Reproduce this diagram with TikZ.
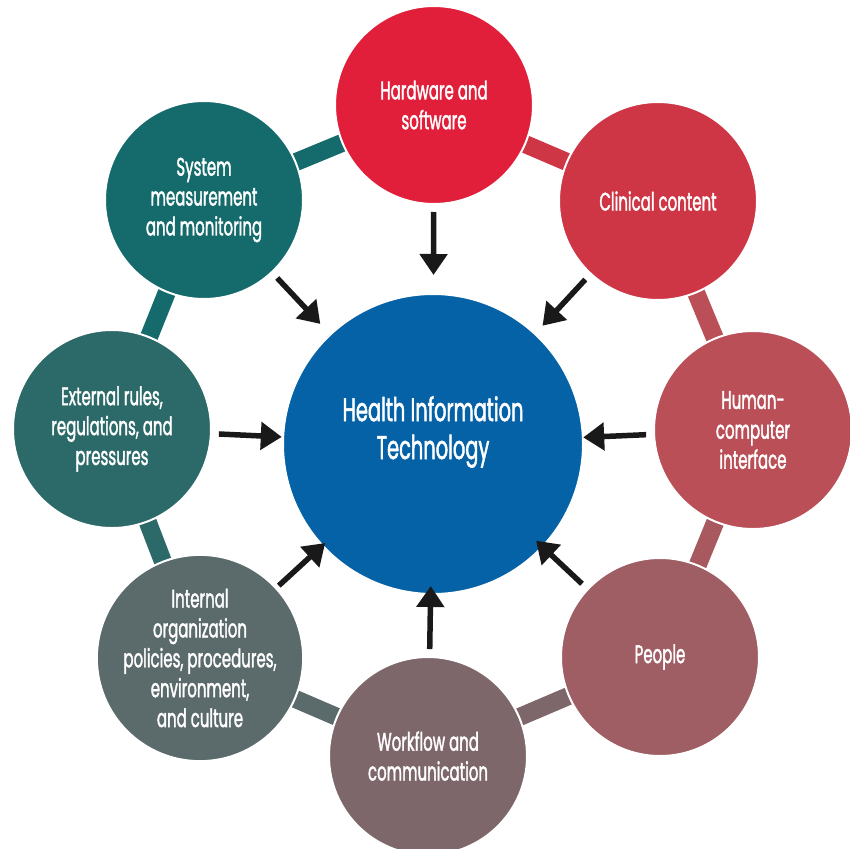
\documentclass[tikz,border=0pt]{standalone}
\usepackage{fontspec}
\setmainfont{Poppins}[FakeStretch=0.59, FakeBold=1.4]
\usetikzlibrary{arrows.meta, calc, backgrounds}

\definecolor{hwred}{HTML}{E21F3A}
\definecolor{clinred}{HTML}{CE3545}
\definecolor{hcired}{HTML}{BA4F58}
\definecolor{pplrose}{HTML}{9E5E63}
\definecolor{wfmauve}{HTML}{7E676B}
\definecolor{intgrey}{HTML}{5B6A6B}
\definecolor{extteal}{HTML}{2C6A69}
\definecolor{systeal}{HTML}{156B6C}
\definecolor{hitblue}{HTML}{0662A6}
\definecolor{linkrose}{HTML}{A8585F}

\begin{document}
\begin{tikzpicture}[x=1bp,y=-1bp,
    factor/.style={circle, fill=#1, draw=white, line width=2bp, minimum size=198bp,
      inner sep=0pt, text=white, align=center, font=\fontsize{25.5}{30}\selectfont},
    hitlabel/.style={text=white, align=center, inner sep=0pt, font=\fontsize{33}{38}\selectfont},
    link/.style={line width=18bp, draw=#1},
    arr/.style={-{Triangle[length=21bp,width=27bp]}, line width=5.5bp, black!90}]
  \useasboundingbox (0,0) rectangle (850,849);

  % central node
  \node[factor=hitblue, minimum size=300bp] (hit) at (433,444) {};
  \node[hitlabel] (hittxt) at ([yshift=12bp]hit.center) {Health Information\\Technology};

  % outer factors
  \node[factor=hwred] (hw) at (434,105) {Hardware and\\software};
  \node[factor=clinred] (clin) at (658,201) {Clinical content};
  \node[factor=hcired] (hci) at (753,430) {Human-\\computer\\interface};
  \node[factor=pplrose] (ppl) at (660,657) {People};
  \node[factor=wfmauve] (wf) at (428,756) {Workflow and\\communication};
  \node[factor=intgrey] (int) at (200,658) {Internal\\organization\\policies, procedures,\\environment,\\and culture};
  \node[factor=extteal] (ext) at (112,429) {External rules,\\regulations, and\\pressures};
  \node[factor=systeal] (sys) at (204,200) {System\\measurement\\and monitoring};

  % links between neighbours
  \begin{scope}[on background layer]
    \foreach \a/\b/\col in {sys/hw/systeal, hw/clin/clinred, clin/hci/hcired, hci/ppl/linkrose,
      ppl/wf/wfmauve, wf/int/intgrey, int/ext/extteal, ext/sys/systeal}
      \draw[link=\col] (\a.center) -- (\b.center);
  \end{scope}

  % arrows into the centre
  \foreach \src in {hw,clin,hci,ppl,wf,int,ext,sys}
    \draw[arr] ($(\src)!107bp!(hit)$) -- ($(\src)!170bp!(hit)$);
\end{tikzpicture}
\end{document}
